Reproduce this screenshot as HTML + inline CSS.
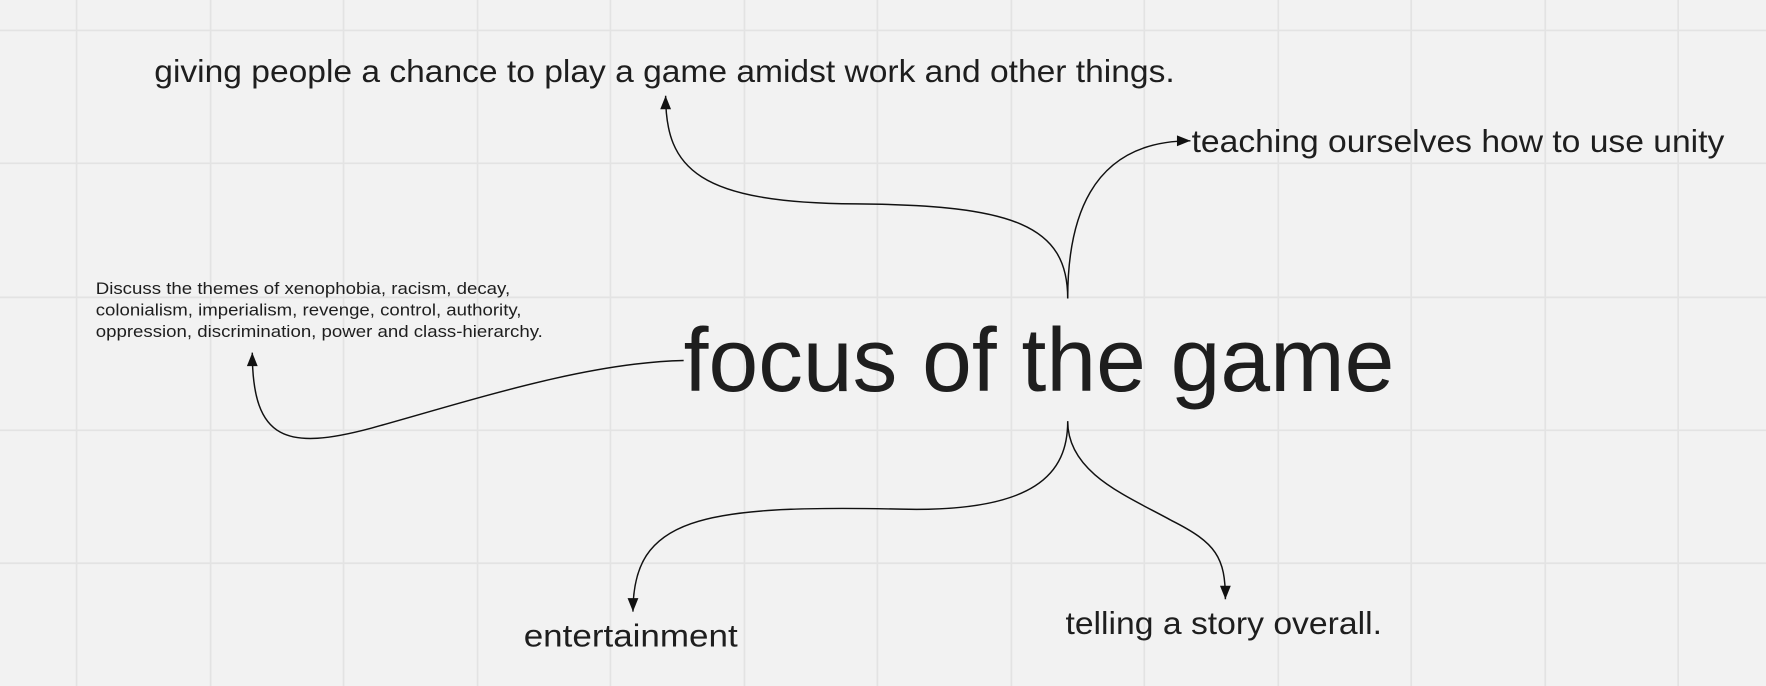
<!DOCTYPE html>
<html><head><meta charset="utf-8"><style>
html,body{margin:0;padding:0;background:#f2f2f2;}
svg{display:block}
</style></head><body>
<svg width="1766" height="686" viewBox="0 0 1568 609" preserveAspectRatio="none" xmlns="http://www.w3.org/2000/svg">
<defs>
<marker id="a" viewBox="0 0 10 10" refX="10" refY="5" markerWidth="14" markerHeight="12" markerUnits="userSpaceOnUse" orient="auto">
<path d="M0,1 L10,5 L0,9 z" fill="#111"/>
</marker>
</defs>
<rect width="1568" height="609" fill="#f2f2f2"/>
<g stroke="#e3e3e3" stroke-width="1.5">
<line x1="68" y1="0" x2="68" y2="609"/><line x1="187" y1="0" x2="187" y2="609"/>
<line x1="305" y1="0" x2="305" y2="609"/><line x1="424" y1="0" x2="424" y2="609"/>
<line x1="542" y1="0" x2="542" y2="609"/><line x1="661" y1="0" x2="661" y2="609"/>
<line x1="779" y1="0" x2="779" y2="609"/><line x1="898" y1="0" x2="898" y2="609"/>
<line x1="1016" y1="0" x2="1016" y2="609"/><line x1="1135" y1="0" x2="1135" y2="609"/>
<line x1="1253" y1="0" x2="1253" y2="609"/><line x1="1372" y1="0" x2="1372" y2="609"/>
<line x1="1490" y1="0" x2="1490" y2="609"/>
<line x1="0" y1="27" x2="1568" y2="27"/><line x1="0" y1="145" x2="1568" y2="145"/>
<line x1="0" y1="264" x2="1568" y2="264"/><line x1="0" y1="382" x2="1568" y2="382"/>
<line x1="0" y1="500" x2="1568" y2="500"/>
</g>
<g fill="none" stroke="#111" stroke-width="1.3">
<path d="M948,265 C948,200 900,182 760,181 C620,180 591,150 591,85" marker-end="url(#a)"/>
<path d="M948,265 C948,200 965,125 1057,125" marker-end="url(#a)"/>
<path d="M607,320 C520,322 420,355 330,380 C255,400 224,392 224,313" marker-end="url(#a)"/>
<path d="M948,374 C948,420 920,455 800,452 C620,448 562,460 562,543" marker-end="url(#a)"/>
<path d="M948,374 C948,420 1000,440 1040,462 C1080,482 1088,495 1088,532" marker-end="url(#a)"/>
</g>
<g fill="#1e1e1e" font-family="Liberation Sans, sans-serif">
<text x="137" y="73" font-size="28" textLength="906" lengthAdjust="spacingAndGlyphs">giving people a chance to play a game amidst work and other things.</text>
<text x="1058" y="135" font-size="28" textLength="473" lengthAdjust="spacingAndGlyphs">teaching ourselves how to use unity</text>
<text x="607" y="347" font-size="80" textLength="631" lengthAdjust="spacingAndGlyphs">focus of the game</text>
<text x="465" y="574" font-size="28" textLength="190" lengthAdjust="spacingAndGlyphs">entertainment</text>
<text x="946" y="563" font-size="28" textLength="281" lengthAdjust="spacingAndGlyphs">telling a story overall.</text>
<text x="85" y="261" font-size="15" textLength="368" lengthAdjust="spacingAndGlyphs">Discuss the themes of xenophobia, racism, decay,</text>
<text x="85" y="280" font-size="15" textLength="378" lengthAdjust="spacingAndGlyphs">colonialism, imperialism, revenge, control, authority,</text>
<text x="85" y="299" font-size="15" textLength="397" lengthAdjust="spacingAndGlyphs">oppression, discrimination, power and class-hierarchy.</text>
</g>
</svg>
</body></html>
